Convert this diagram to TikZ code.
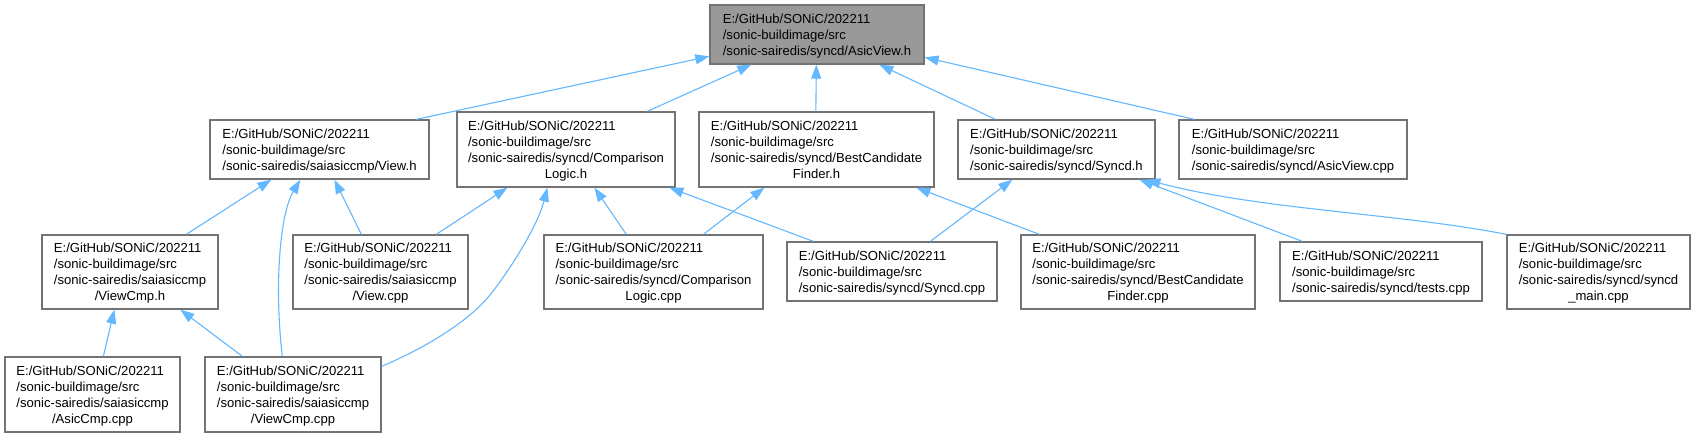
\documentclass[tikz,border=0pt]{standalone}
\usepackage{fontspec}
\setmainfont{Liberation Sans}
\usetikzlibrary{arrows.meta,calc}
\definecolor{edgeblue}{HTML}{63B8FF}
\definecolor{boxline}{HTML}{737373}
\definecolor{rootfill}{HTML}{999999}
\newcommand{\threel}[1]{\raisebox{-1.5pt}[\height][\depth]{\begin{tabular}{@{}l@{}}E:/GitHub/SONiC/202211\\/sonic-buildimage/src\\#1\end{tabular}}}
\newcommand{\fourl}[2]{\raisebox{-1.4pt}[\height][\depth]{\begin{tabular}{@{}l@{}}E:/GitHub/SONiC/202211\\/sonic-buildimage/src\\#1\\\multicolumn{1}{@{}c@{}}{#2}\end{tabular}}}
\begin{document}
\begin{tikzpicture}[x=1pt,y=-1pt,font=\fontsize{13.1}{16}\selectfont,
  filebox/.style={draw=boxline,line width=1.3pt,fill=white,inner sep=0pt,rectangle},
  rootbox/.style={filebox,fill=rootfill},
  dep/.style={draw=edgeblue,line width=1.1pt,-{Triangle[length=14pt,width=10pt]}}]
\fill[white] (0,0) rectangle (1695,437);
\useasboundingbox (0,0) rectangle (1695,437);
% row 1
\node[rootbox,minimum width=214pt,minimum height=59pt] (root) at (817,34.5) {\threel{/sonic-sairedis/syncd/AsicView.h}};
% row 2
\node[filebox,minimum width=219pt,minimum height=59pt] (viewh) at (319.5,149.5) {\threel{/sonic-sairedis/saiasiccmp/View.h}};
\node[filebox,minimum width=218pt,minimum height=75pt] (clh) at (566,149.5) {\fourl{/sonic-sairedis/syncd/Comparison}{Logic.h}};
\node[filebox,minimum width=235pt,minimum height=75pt] (bcfh) at (816.5,149.5) {\fourl{/sonic-sairedis/syncd/BestCandidate}{Finder.h}};
\node[filebox,minimum width=197pt,minimum height=59pt] (syncdh) at (1056.5,149.5) {\threel{/sonic-sairedis/syncd/Syncd.h}};
\node[filebox,minimum width=228pt,minimum height=59pt] (avcpp) at (1293,149.5) {\threel{/sonic-sairedis/syncd/AsicView.cpp}};
% row 3
\node[filebox,minimum width=176pt,minimum height=74pt] (viewcmph) at (130,272) {\fourl{/sonic-sairedis/saiasiccmp}{/ViewCmp.h}};
\node[filebox,minimum width=175pt,minimum height=74pt] (viewcpp) at (380.5,272) {\fourl{/sonic-sairedis/saiasiccmp}{/View.cpp}};
\node[filebox,minimum width=219pt,minimum height=74pt] (clcpp) at (653.5,272) {\fourl{/sonic-sairedis/syncd/Comparison}{Logic.cpp}};
\node[filebox,minimum width=210pt,minimum height=59pt] (syncdcpp) at (892,271.5) {\threel{/sonic-sairedis/syncd/Syncd.cpp}};
\node[filebox,minimum width=234pt,minimum height=74pt] (bcfcpp) at (1138,272) {\fourl{/sonic-sairedis/syncd/BestCandidate}{Finder.cpp}};
\node[filebox,minimum width=202pt,minimum height=59pt] (testscpp) at (1381,271.5) {\threel{/sonic-sairedis/syncd/tests.cpp}};
\node[filebox,minimum width=183pt,minimum height=74pt] (mainccpp) at (1598.5,272) {\fourl{/sonic-sairedis/syncd/syncd}{\_main.cpp}};
% row 4
\node[filebox,minimum width=175pt,minimum height=75pt] (asiccmp) at (92.5,394.5) {\fourl{/sonic-sairedis/saiasiccmp}{/AsicCmp.cpp}};
\node[filebox,minimum width=176pt,minimum height=75pt] (viewcmpcpp) at (293,394.5) {\fourl{/sonic-sairedis/saiasiccmp}{/ViewCmp.cpp}};
% edges to root
\draw[dep] ($(viewh.north west)+(207,0)$) -- ($(root.north west)+(0,52)$);
\draw[dep] ($(clh.north west)+(191,0)$) -- ($(root.south west)+(42,0)$);
\draw[dep] ($(bcfh.north west)+(117.5,0)$) -- ($(root.south west)+(107,0)$);
\draw[dep] ($(syncdh.north west)+(38,0)$) -- ($(root.south west)+(170,0)$);
\draw[dep] ($(avcpp.north west)+(16,0)$) -- ($(root.north east)+(0,53)$);
% edges to View.h
\draw[dep] ($(viewcmph.north west)+(145,0)$) -- ($(viewh.south west)+(62,0)$);
\draw[dep] ($(viewcmpcpp.north west)+(78,0)$) .. controls +(-8,-67) and +(-21,35) .. ($(viewh.south west)+(91,0)$);
\draw[dep] ($(viewcpp.north west)+(69,0)$) -- ($(viewh.south west)+(125,0)$);
% edges to ComparisonLogic.h
\draw[dep] ($(viewcpp.north west)+(144,0)$) -- ($(clh.south west)+(51,0)$);
\draw[dep] ($(viewcmpcpp.north east)+(0,10)$) .. controls (425,348) and (468,322) .. (490,295) .. controls (510,270) and (538,225) .. ($(clh.south west)+(91,0)$);
\draw[dep] ($(clcpp.north west)+(83,0)$) -- ($(clh.south west)+(138,0)$);
\draw[dep] ($(syncdcpp.north west)+(27,0)$) -- ($(clh.south west)+(213,0)$);
% edges to BestCandidateFinder.h
\draw[dep] ($(clcpp.north west)+(160,0)$) -- ($(bcfh.south west)+(66,0)$);
\draw[dep] ($(bcfcpp.north west)+(19,0)$) -- ($(bcfh.south west)+(218,0)$);
% edges to Syncd.h
\draw[dep] ($(syncdcpp.north west)+(144,0)$) -- ($(syncdh.south west)+(55,0)$);
\draw[dep] ($(testscpp.north west)+(23,0)$) -- ($(syncdh.south west)+(182,0)$);
\draw[dep] (mainccpp.north west) .. controls +(-107,-21) and +(113,30) .. ($(syncdh.south west)+(189,0)$);
% edges to ViewCmp.h
\draw[dep] ($(asiccmp.north west)+(99,0)$) -- ($(viewcmph.south west)+(73,0)$);
\draw[dep] ($(viewcmpcpp.north west)+(38,0)$) -- ($(viewcmph.south west)+(139,0)$);
\end{tikzpicture}
\end{document}
